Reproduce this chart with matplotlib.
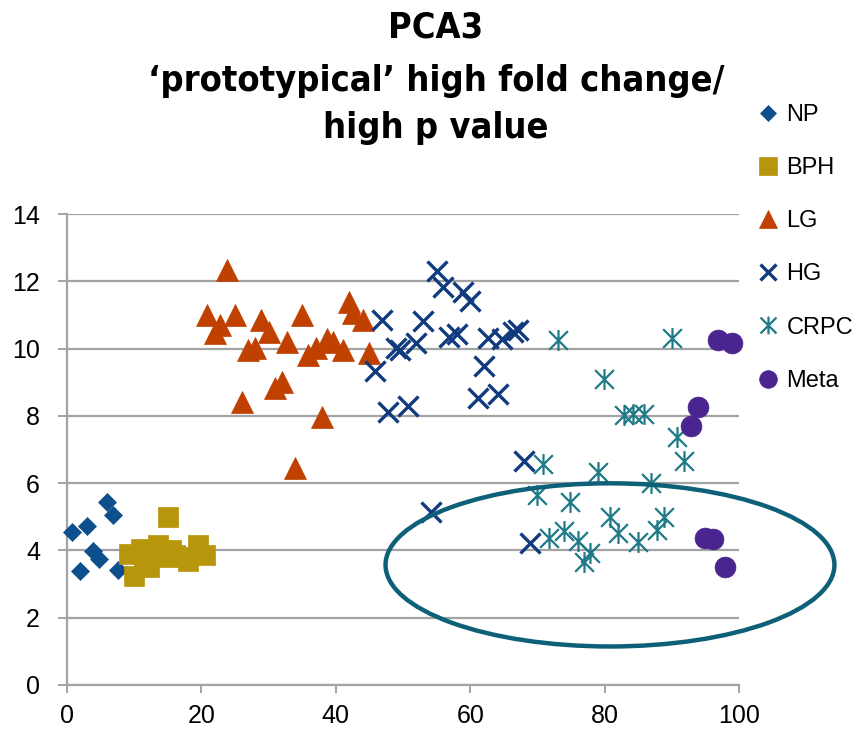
import numpy as np
import matplotlib
matplotlib.use("Agg")
import matplotlib.pyplot as plt
from matplotlib.path import Path
from matplotlib.patches import Ellipse
from matplotlib import font_manager as fm

# ---------------- data ----------------
np_x = [0.75, 3.0, 6.0, 6.9, 1.9, 3.9, 4.8, 7.6]
np_y = [4.55, 4.73, 5.45, 5.06, 3.39, 3.99, 3.75, 3.42]

bph_x = [15.0, 9.2, 11.0, 13.5, 10.0, 12.2, 14.0, 16.0, 18.0, 19.5, 20.5, 17.0, 11.5, 15.5]
bph_y = [5.0, 3.9, 4.05, 4.15, 3.25, 3.5, 3.8, 3.85, 3.7, 4.15, 3.85, 3.8, 3.6, 4.0]

lg_x = [23.8, 20.9, 22.8, 22.0, 25.0, 28.9, 30.0, 27.0, 28.0, 32.8, 35.0, 35.9, 37.0,
        38.7, 39.6, 41.0, 41.9, 42.6, 44.0, 44.9, 32.0, 31.0, 26.1, 38.0, 34.0]
lg_y = [12.35, 11.0, 10.7, 10.47, 11.0, 10.86, 10.5, 9.97, 10.03, 10.2, 11.0, 9.82, 10.03,
        10.27, 10.2, 9.97, 11.37, 11.07, 10.86, 9.88, 9.02, 8.84, 8.42, 7.98, 6.46]

hg_x = [55.0, 56.0, 59.0, 59.9, 46.9, 53.0, 48.9, 49.6, 51.9, 56.9, 58.1, 62.7, 64.8,
        66.3, 67.1, 45.9, 62.0, 47.8, 50.8, 61.1, 64.1, 68.0, 68.9, 54.1]
hg_y = [12.3, 11.82, 11.67, 11.4, 10.86, 10.83, 10.03, 9.97, 10.18, 10.33, 10.42, 10.3, 10.27,
        10.48, 10.54, 9.32, 9.49, 8.1, 8.3, 8.54, 8.66, 6.67, 4.23, 5.15]

crpc_x = [73.0, 90.0, 79.9, 82.9, 84.2, 85.8, 90.8, 91.8, 70.9, 79.0, 86.9, 69.9, 74.8,
          80.8, 88.8, 82.0, 87.8, 71.8, 73.9, 76.0, 84.9, 77.9, 76.9]
crpc_y = [10.24, 10.3, 9.11, 8.04, 8.07, 8.07, 7.38, 6.67, 6.58, 6.34, 6.01, 5.65, 5.45,
          5.0, 5.0, 4.52, 4.61, 4.37, 4.58, 4.29, 4.26, 3.93, 3.66]

meta_x = [96.9, 99.0, 93.9, 92.8, 94.9, 96.1, 97.9]
meta_y = [10.24, 10.18, 8.27, 7.71, 4.37, 4.35, 3.51]

x_ticks = [0, 20, 40, 60, 80, 100]
y_ticks = [0, 2, 4, 6, 8, 10, 12, 14]

# highlighted region (ellipse) in data units: center x, center y, width, height
ell_cx, ell_cy, ell_w, ell_h = 80.8, 3.57, 66.8, 4.85

title_lines = ["PCA3", "\u2018prototypical\u2019 high fold change/", "high p value"]

# ---------------- style ----------------
c_np = "#0d4f8c"
c_bph = "#b8960c"
c_lg = "#c04000"
c_hg = "#103b7e"
c_crpc = "#1d7a86"
c_meta = "#4a2590"
c_ell = "#0e5f78"
grid_c = "#a3a3a3"

base_font = ["Liberation Sans", "DejaVu Sans"]
plt.rcParams["font.family"] = base_font

W, H = 865, 731
fig = plt.figure(figsize=(W / 100, H / 100), dpi=100)
ax = fig.add_axes([67 / W, 1 - 685 / H, (739 - 67) / W, (685 - 214) / H])

# asterisk marker for CRPC
ast = Path([(-0.9, -0.9), (0.9, 0.9), (-0.9, 0.9), (0.9, -0.9), (0, -1.0), (0, 1.0)],
           [Path.MOVETO, Path.LINETO, Path.MOVETO, Path.LINETO, Path.MOVETO, Path.LINETO])

h_np, = ax.plot(np_x, np_y, ls="none", marker="D", ms=9.5, mfc=c_np, mec=c_np, mew=0.5,
                label="NP", clip_on=False, zorder=3)
h_bph, = ax.plot(bph_x, bph_y, ls="none", marker="s", ms=15, mfc=c_bph, mec=c_bph, mew=0.5,
                 label="BPH", clip_on=False, zorder=3)
h_lg, = ax.plot(lg_x, lg_y, ls="none", marker="^", ms=16, mfc=c_lg, mec=c_lg, mew=0.5,
                label="LG", clip_on=False, zorder=3)
h_hg, = ax.plot(hg_x, hg_y, ls="none", marker="x", ms=14, mec=c_hg, mew=2.4,
                label="HG", clip_on=False, zorder=3)
h_crpc, = ax.plot(crpc_x, crpc_y, ls="none", marker=ast, ms=15, mfc="none", mec=c_crpc, mew=1.6,
                  label="CRPC", clip_on=False, zorder=3)
h_meta, = ax.plot(meta_x, meta_y, ls="none", marker="o", ms=15, mfc=c_meta, mec=c_meta, mew=0.5,
                  label="Meta", clip_on=False, zorder=3)

ell = Ellipse((ell_cx, ell_cy), ell_w, ell_h, fill=False, ec=c_ell, lw=3.2,
              clip_on=False, zorder=4)
ax.add_patch(ell)

ax.set_xlim(0, 100)
ax.set_ylim(0, 14)
ax.set_xticks(x_ticks)
ax.set_yticks(y_ticks)
ax.yaxis.grid(True, color=grid_c, lw=1.6)
ax.set_axisbelow(True)
for s in ["top", "right"]:
    ax.spines[s].set_visible(False)
for s in ["left", "bottom"]:
    ax.spines[s].set_color(grid_c)
    ax.spines[s].set_linewidth(1.6)
ax.tick_params(axis="both", colors=grid_c, labelcolor="black", labelsize=18,
               direction="out", width=1.4)
ax.tick_params(axis="y", length=6.5, pad=13)
ax.tick_params(axis="x", length=6, pad=8)

# legend
fig.legend(handles=[h_np, h_bph, h_lg, h_hg, h_crpc, h_meta],
           loc="upper left", bbox_to_anchor=(757 / W, 1 - 104 / H),
           frameon=False, fontsize=17, handlelength=0.95, handletextpad=0.3,
           labelspacing=1.32, borderpad=0, borderaxespad=0, markerscale=0.85)

# title
names = {f.name for f in fm.fontManager.ttflist}
if "Liberation Sans Narrow" in names:
    tfam = ["Liberation Sans Narrow", "DejaVu Sans"]
    tstretch = "normal"
else:
    tfam = ["DejaVu Sans"]
    tstretch = "condensed"

centers_y = [27, 81, 128]
texts = []
for line, cy in zip(title_lines, centers_y):
    t = fig.text(436 / W, 1 - cy / H, line, ha="center", va="center",
                 fontsize=30, fontweight="bold", family=tfam, fontstretch=tstretch)
    texts.append(t)

# fit title width to the reference line width
fig.canvas.draw()
r = fig.canvas.get_renderer()
wid = texts[1].get_window_extent(r).width
scale = 575.0 / wid
for t in texts:
    t.set_fontsize(30 * scale)

fig.savefig("out.png", dpi=100)
